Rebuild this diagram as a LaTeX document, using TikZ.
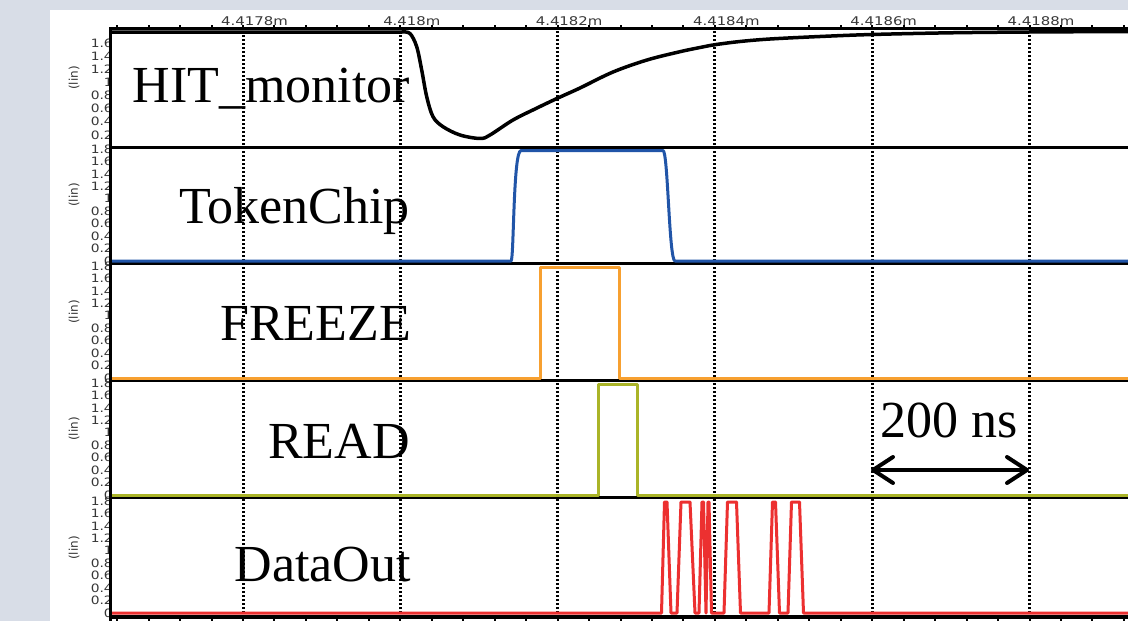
\documentclass[tikz,border=0pt]{standalone}
\usepackage{fontspec}
\setmainfont{Liberation Serif}
\newfontfamily\axfont{DejaVu Sans}
\usetikzlibrary{arrows.meta}
\definecolor{bgc}{RGB}{216,221,231}
\definecolor{tokc}{RGB}{33,85,168}
\definecolor{frzc}{RGB}{247,160,48}
\definecolor{rdc}{RGB}{170,180,40}
\definecolor{dtc}{RGB}{236,48,48}
\definecolor{axc}{RGB}{55,55,55}
\begin{document}
\begin{tikzpicture}[x=1pt,y=-1pt,
  framel/.style={line width=3pt, black},
  gridl/.style={line width=3pt, dash pattern=on 2.2pt off 1.8pt, black},
  sig/.style={line width=3pt, line join=round},
  hitl/.style={line width=3.5pt, black, line join=round, line cap=round},
  biglab/.style={font=\fontsize{52}{52}\selectfont, anchor=base east, inner sep=0pt},
  ticklab/.style={font=\axfont\fontsize{11.5}{11.5}\selectfont, text=axc, anchor=east, inner sep=0pt, xscale=1.2},
  linlab/.style={font=\axfont\fontsize{12}{12}\selectfont, text=axc, inner sep=0pt, rotate=90},
  toplab/.style={font=\axfont\fontsize{12}{12}\selectfont, text=axc, anchor=base, inner sep=0pt, xscale=1.24},
  dimarrow/.style={line width=4pt, {Straight Barb[length=20pt,width=26pt,round]}-{Straight Barb[length=20pt,width=26pt,round]}}
]
\useasboundingbox (0,0) rectangle (1128,621);
\fill[bgc] (0,0) rectangle (1128,621);
\fill[white] (50,10) rectangle (1128,621);
\clip (0,0) rectangle (1128,621);

% top axis labels and ticks
\foreach \k/\t in {0/4.4178m,1/4.418m,2/4.4182m,3/4.4184m,4/4.4186m,5/4.4188m}{
  \node[toplab] (tl\k) at ({243+157.3*\k+11.5},25.5) {\t};
}
\foreach \k in {-4,...,28}{
  \draw[line width=2pt, black] ({243+31.46*\k},25) -- ({243+31.46*\k},28);
  \draw[line width=2pt, black] ({243+31.46*\k},616) -- ({243+31.46*\k},621);
}

% grid lines
\foreach \k in {0,...,5}{
  \draw[gridl] ({243+157.3*\k},31) -- ({243+157.3*\k},615);
}

% axis frame lines
\draw[framel] (110,28.5) -- (1128,28.5);
\foreach \y in {147,263.5,380,497}{
  \draw[framel] (110,\y) -- (1128,\y);
}
\draw[line width=3.5pt, black] (110,617) -- (1128,617);

% y tick labels
\begin{scope}
\clip (0,0) rectangle (110,621);
\foreach \i/\t in {1/0.2,2/0.4,3/0.6,4/0.8,5/1,6/1.2,7/1.4,8/1.6}{
  \node[ticklab] at (113,{148-13.1*\i}) {\t};
}
\foreach \i/\t in {0/0,1/0.2,2/0.4,3/0.6,4/0.8,5/1,6/1.2,7/1.4,8/1.6,9/1.8}{
  \foreach \L in {261,378,495,613}{
    \node[ticklab] at (113,{\L-12.45*\i}) {\t};
  }
}
\end{scope}
\foreach \c in {78,195,312,429,548}{
  \node[linlab] at (74,\c) {(lin)};
}
\draw[line width=3.5pt, black] (110.5,27) -- (110.5,621);

% HIT_monitor curve
\draw[hitl] (112,32) -- (402,32) plot[smooth, tension=0.55] coordinates {
 (402,32) (410,33.5) (416.7,46.7) (421.7,70) (426.7,96.7) (433,116.7) (443,126.7)
 (460,135) (480,138.5) (490,135) (513,120) (537,108) (558,98) (580,88) (613,72)
 (647,60) (680,51.7) (700,47.5) (715,44.7) (740,41.5) (770,39) (820,36.5) (872,34.5)
 (950,32.8) (1029,32) (1128,31.5)};

% TokenChip
\draw[sig, tokc] (112,261) -- (511,261) .. controls (514,261) and (513,150.5) .. (521,150.5)
  -- (663,150.5) .. controls (668,150.5) and (669,261) .. (675,261) -- (1128,261);
% FREEZE
\draw[sig, frzc] (112,378) -- (540,378) -- (540,267) -- (619,267) -- (619,378) -- (1128,378);
% READ
\draw[sig, rdc] (112,495) -- (598,495) -- (598,384) -- (637,384) -- (637,495) -- (1128,495);
% DataOut
\draw[sig, dtc] (112,613) -- (661.5,613) -- (664.5,502) -- (667,502) -- (671,613) -- (677,613)
  -- (681,502) -- (690,502) -- (695,613) -- (699,613) -- (702,502) -- (703.5,502) -- (706,613)
  -- (708,502) -- (709,502) -- (711.5,613) -- (724,613) -- (727.5,502) -- (736.5,502)
  -- (740.5,613) -- (769,613) -- (772.5,502) -- (775.5,502) -- (779.5,613) -- (788,613)
  -- (791.5,502) -- (799.5,502) -- (803.5,613) -- (1128,613);

% signal names
\node[biglab] (nhit) at (410,102) {HIT\_monitor};
\node[biglab] (ntok) at (410,223.5) {TokenChip};
\node[biglab] (nfrz) at (411,340) {FREEZE};
\node[biglab] (nrd)  at (410,458) {READ};
\node[biglab] (ndat) at (411,581) {DataOut};

% 200 ns marker
\node[font=\fontsize{52}{52}\selectfont, anchor=base west, inner sep=0pt] (ns) at (880,437) {200 ns};
\coordinate (a1) at (871,470);
\coordinate (a2) at (1029,470);
\draw[dimarrow] (a1) -- (a2);
\end{tikzpicture}
\end{document}
